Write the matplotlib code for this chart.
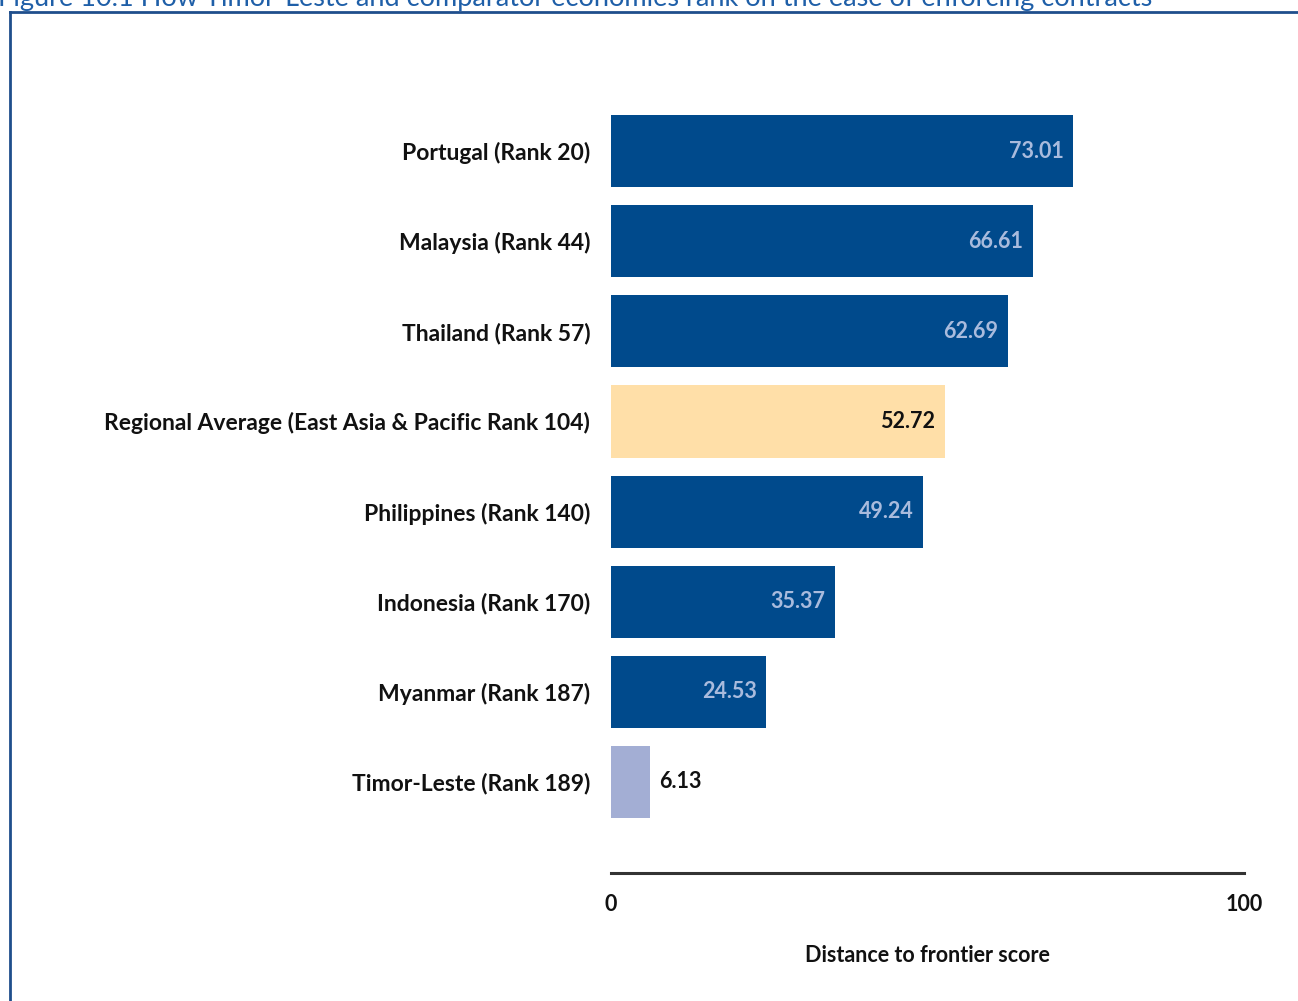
import matplotlib
matplotlib.use("Agg")
import matplotlib.pyplot as plt
from matplotlib.lines import Line2D

categories = ["Portugal (Rank 20)", "Malaysia (Rank 44)", "Thailand (Rank 57)",
              "Regional Average (East Asia & Pacific Rank 104)", "Philippines (Rank 140)",
              "Indonesia (Rank 170)", "Myanmar (Rank 187)", "Timor-Leste (Rank 189)"]
values = [73.01, 66.61, 62.69, 52.72, 49.24, 35.37, 24.53, 6.13]
kinds = ["comp", "comp", "comp", "region", "comp", "comp", "comp", "focus"]
tick_values = [0, 100]
title = "Figure 10.1 How Timor-Leste and comparator economies rank on the ease of enforcing contracts"
xlabel = "Distance to frontier score"

bar_colors = {"comp": "#004a8c", "region": "#ffdfa8", "focus": "#a3aed4"}
label_colors = {"comp": "#a9bbdd", "region": "#111111", "focus": "#111111"}

plt.rcParams['font.family'] = ['Lato', 'DejaVu Sans']

fig = plt.figure(figsize=(12.98, 10.01), dpi=100)
ax = fig.add_axes([611/1298, 1-873/1001, 633/1298, (873-106)/1001])

ypos = list(range(len(categories)))
for y, v, k in zip(ypos, values, kinds):
    ax.barh(y, v, height=0.8, color=bar_colors[k], edgecolor='none')
    if k == "focus":
        ax.text(v + 1.5, y, f"{v:.2f}", ha='left', va='center', fontsize=15.5,
                fontweight='bold', color=label_colors[k])
    else:
        ax.text(v - 1.5, y, f"{v:.2f}", ha='right', va='center', fontsize=15.5,
                fontweight='bold', color=label_colors[k])

ax.set_xlim(0, 100)
ax.set_ylim(8.01, -0.5)
ax.set_yticks(ypos)
ax.set_yticklabels(categories, fontsize=16.5, fontweight='bold', color='#111111')
ax.set_xticks(tick_values)
ax.set_xticklabels([str(t) for t in tick_values], fontsize=15.5, fontweight='bold', color='#111111')
ax.tick_params(axis='y', length=0, pad=15)
ax.tick_params(axis='x', length=0, pad=15)
for s in ['top', 'right', 'left']:
    ax.spines[s].set_visible(False)
ax.spines['bottom'].set_linewidth(2.2)
ax.spines['bottom'].set_color('#333333')
ax.set_xlabel(xlabel, fontsize=15.5, fontweight='bold', color='#111111', labelpad=22)

# frame
fig.add_artist(Line2D([10/1298, 1], [1-12/1001, 1-12/1001], color='#1f4e8c', lw=2, transform=fig.transFigure))
fig.add_artist(Line2D([10/1298, 10/1298], [0, 1-12/1001], color='#1f4e8c', lw=2, transform=fig.transFigure))
fig.text(-2/1298, 1+2/1001, title, ha='left', va='center', fontsize=19.5, color='#1f5fa8')

fig.savefig("out.png", dpi=100)
